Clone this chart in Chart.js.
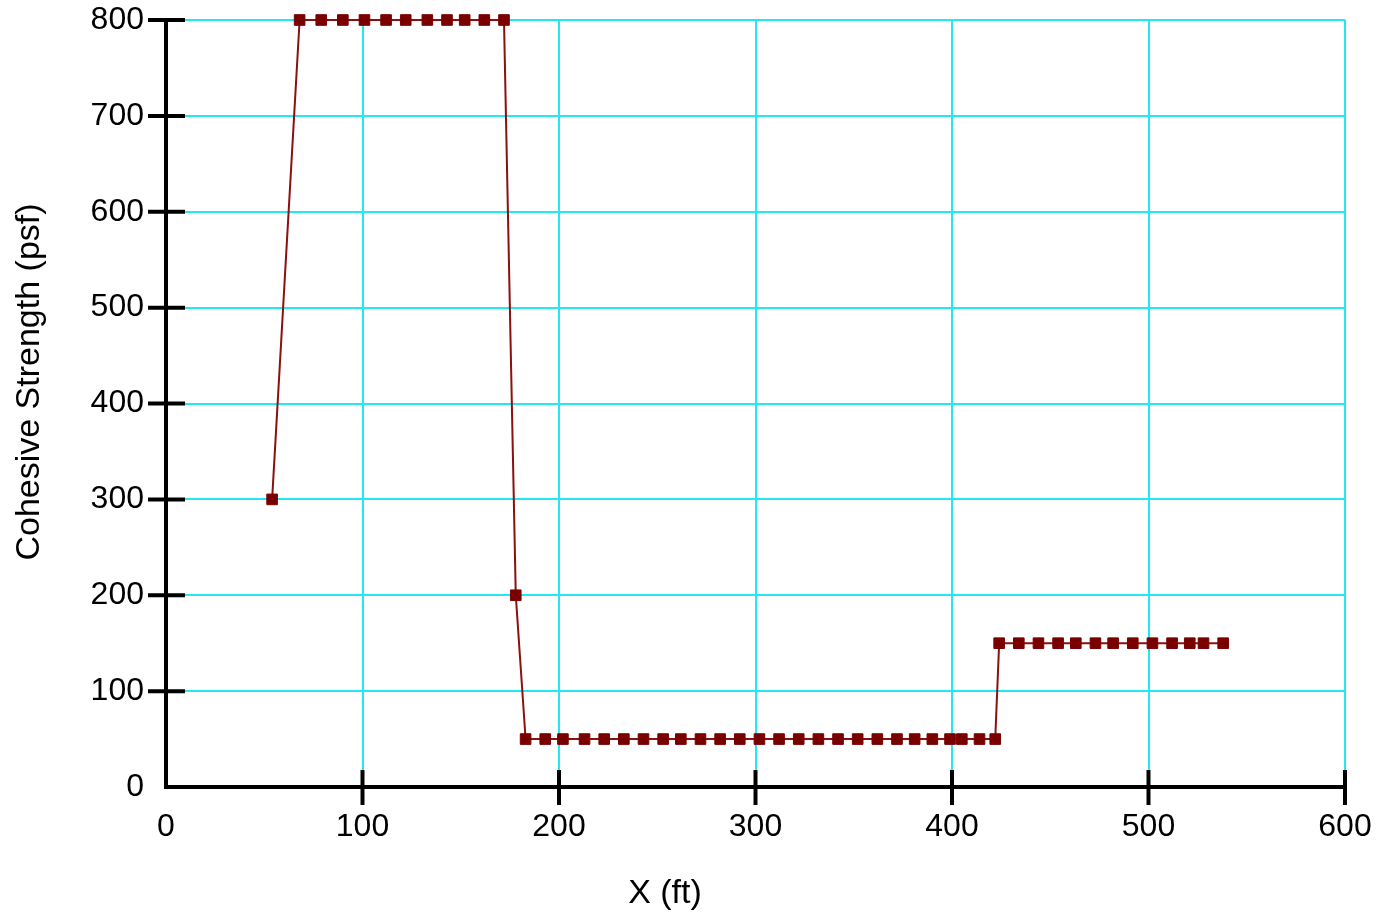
<!DOCTYPE html>
<html>
<head>
<meta charset="utf-8">
<script src="https://cdn.jsdelivr.net/npm/chart.js@4"></script>
<style>
  body { margin: 0; background: #fff; }
  #wrap { width: 1387px; height: 918px; }
</style>
</head>
<body>
<div id="wrap"><canvas id="chart"></canvas></div>
<script>
// distance along the section (ft) and cohesive strength (psf)
const xValues = [54, 68, 79, 90, 101, 112, 122, 133, 143, 152, 162, 172,
  178,
  183, 193, 202, 213, 223, 233, 243, 253, 262, 272, 282, 292, 302, 312, 322,
  332, 342, 352, 362, 372, 381, 390, 399, 405, 414, 422,
  424, 434, 444, 454, 463, 473, 482, 492, 502, 512, 521, 528, 538];
const cohesion = [300, 800, 800, 800, 800, 800, 800, 800, 800, 800, 800, 800,
  200,
  50, 50, 50, 50, 50, 50, 50, 50, 50, 50, 50, 50, 50, 50, 50,
  50, 50, 50, 50, 50, 50, 50, 50, 50, 50, 50,
  150, 150, 150, 150, 150, 150, 150, 150, 150, 150, 150, 150, 150];
const xTicks = [0, 100, 200, 300, 400, 500, 600];
const yTicks = [0, 100, 200, 300, 400, 500, 600, 700, 800];
const xTitle = 'X (ft)';
const yTitle = 'Cohesive Strength (psf)';

const fontFam = "'Liberation Sans', Arial, sans-serif";

// black axes with ticks crossing the axis line, plus axis titles
const axesPlugin = {
  id: 'axes',
  afterDraw(chart) {
    const { ctx } = chart;
    const x = chart.scales.x, y = chart.scales.y;
    const x0 = x.getPixelForValue(0), y0 = y.getPixelForValue(0);
    ctx.save();
    ctx.strokeStyle = '#000';
    ctx.lineWidth = 4;
    ctx.beginPath();
    ctx.moveTo(x0, y.getPixelForValue(800));
    ctx.lineTo(x0, y0);
    ctx.lineTo(x.getPixelForValue(600), y0);
    ctx.stroke();
    yTicks.slice(1).forEach(v => {
      const p = y.getPixelForValue(v);
      ctx.beginPath();
      ctx.moveTo(x0 - 18, p);
      ctx.lineTo(x0 + 19, p);
      ctx.stroke();
    });
    xTicks.slice(1).forEach(v => {
      const p = x.getPixelForValue(v);
      ctx.beginPath();
      ctx.moveTo(p, y0 - 17);
      ctx.lineTo(p, y0 + 18);
      ctx.stroke();
    });

    // titles sit off-centre in the original, so place them by hand
    ctx.fillStyle = '#000';
    ctx.font = '34px ' + fontFam;
    ctx.textAlign = 'center';
    ctx.textBaseline = 'middle';
    ctx.fillText(xTitle, 665, 894);
    ctx.translate(30, 382);
    ctx.rotate(-Math.PI / 2);
    ctx.fillText(yTitle, 0, 0);
    ctx.restore();
  }
};

new Chart(document.getElementById('chart'), {
  type: 'scatter',
  data: {
    datasets: [{
      data: xValues.map((v, i) => ({ x: v, y: cohesion[i] })),
      showLine: true,
      clip: false,
      borderColor: '#8b1010',
      borderWidth: 2,
      pointStyle: 'rect',
      pointRadius: 7.5,
      pointBackgroundColor: '#7a0000',
      pointBorderColor: '#7a0000',
      pointBorderWidth: 1
    }]
  },
  options: {
    responsive: true,
    maintainAspectRatio: false,
    animation: false,
    layout: { padding: 0 },
    plugins: {
      legend: { display: false },
      tooltip: { enabled: false }
    },
    scales: {
      x: {
        type: 'linear',
        min: 0, max: 600,
        afterBuildTicks: s => { s.ticks = xTicks.map(v => ({ value: v })); },
        afterFit: s => { s.height = 131; s.paddingRight = 42; s.paddingLeft = 0; },
        grid: { color: '#22e8f0', lineWidth: 2, drawTicks: false },
        border: { display: false },
        ticks: { color: '#000', padding: 21, font: { family: fontFam, size: 32 } }
      },
      y: {
        min: 0, max: 800,
        afterBuildTicks: s => { s.ticks = yTicks.map(v => ({ value: v })); },
        afterFit: s => { s.width = 166; s.paddingTop = 20; s.paddingBottom = 0; },
        grid: { color: '#22e8f0', lineWidth: 2, drawTicks: false },
        border: { display: false },
        ticks: { color: '#000', padding: 22, font: { family: fontFam, size: 32 } }
      }
    }
  },
  plugins: [axesPlugin]
});
</script>
</body>
</html>
